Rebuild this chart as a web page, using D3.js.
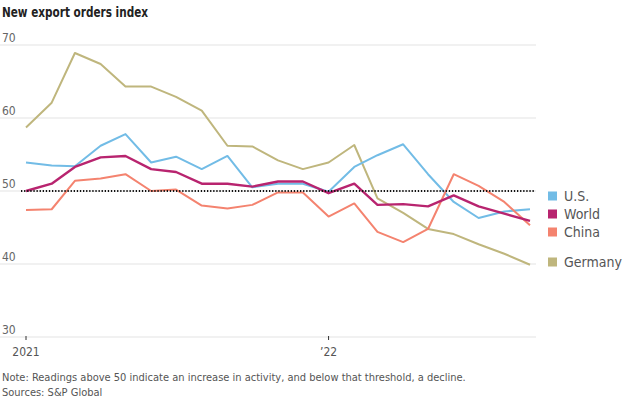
<!DOCTYPE html>
<html>
<head>
<meta charset="utf-8">
<script src="https://cdn.jsdelivr.net/npm/d3@7"></script>
<style>
  body { margin: 0; background: #fff; }
  svg { display: block; font-family: "Liberation Sans Narrow", "DejaVu Sans Condensed", "Roboto", sans-serif; }
</style>
</head>
<body>
<svg id="chart" width="624" height="405"></svg>
<script>
// monthly readings, Jan 2021 - Sep 2022
const months = d3.range(21).map(i => new Date(2021, i, 1));
const usValues      = [53.9, 53.5, 53.4, 56.2, 57.8, 53.9, 54.7, 53.0, 54.8, 50.5, 51.0, 51.0, 49.9, 53.3, 54.9, 56.4, 52.3, 48.5, 46.3, 47.2, 47.5];
const worldValues   = [50.0, 51.0, 53.3, 54.6, 54.8, 53.0, 52.6, 51.0, 51.0, 50.6, 51.3, 51.3, 49.7, 51.0, 48.1, 48.2, 47.9, 49.4, 47.9, 46.9, 45.9];
const chinaValues   = [47.4, 47.5, 51.4, 51.7, 52.3, 50.0, 50.2, 48.0, 47.6, 48.1, 49.8, 49.8, 46.5, 48.3, 44.4, 43.0, 44.8, 52.3, 50.7, 48.5, 45.3];
const germanyValues = [58.7, 62.1, 68.9, 67.4, 64.3, 64.3, 62.9, 61.0, 56.2, 56.1, 54.2, 53.0, 53.9, 56.3, 49.0, 47.0, 44.8, 44.1, 42.7, 41.4, 39.9];
const yTicks = [30, 40, 50, 60, 70];
const xTicks = [new Date(2021, 0, 1), new Date(2022, 0, 1)];
const xTickLabels = ['2021', '\u201922'];

const series = [
    { name: 'Germany', values: germanyValues, color: '#bfb67d', legendY: 262 },
    { name: 'U.S.', values: usValues, color: '#72bce6', legendY: 196 },
    { name: 'China', values: chinaValues, color: '#f4836f', legendY: 232 },
    { name: 'World', values: worldValues, color: '#b8246f', legendY: 214 }
];

const svg = d3.select('#chart');

const x = d3.scaleTime()
    .domain([months[0], months[months.length - 1]])
    .range([26, 530]);
const y = d3.scaleLinear().domain([30, 70]).range([337, 45]);

// title
svg.append('text')
    .attr('x', 2).attr('y', 17)
    .attr('font-size', 14).attr('font-weight', 'bold')
    .attr('fill', '#222')
    .attr('textLength', 146).attr('lengthAdjust', 'spacingAndGlyphs')
    .text('New export orders index');

// gridlines + y labels
svg.selectAll('.grid').data(yTicks).enter().append('line')
    .attr('x1', 0).attr('x2', 536)
    .attr('y1', d => y(d)).attr('y2', d => y(d))
    .attr('stroke', '#ececec').attr('stroke-width', 1.5);

svg.selectAll('.ylab').data(yTicks).enter().append('text')
    .attr('x', 2).attr('y', d => y(d) - 3)
    .attr('font-size', 12).attr('fill', '#666')
    .text(d => d);

// x ticks
svg.selectAll('.xtick').data(xTicks).enter().append('line')
    .attr('x1', d => x(d)).attr('x2', d => x(d))
    .attr('y1', 336).attr('y2', 340)
    .attr('stroke', '#333').attr('stroke-width', 1);

svg.selectAll('.xlab').data(xTicks).enter().append('text')
    .attr('x', d => x(d)).attr('y', 356)
    .attr('text-anchor', 'middle')
    .attr('font-size', 12).attr('fill', '#555')
    .text((d, i) => xTickLabels[i]);

// lines
const line = d3.line()
    .x((d, i) => x(months[i]))
    .y(d => y(d));

svg.selectAll('.series').data(series).enter().append('path')
    .attr('d', d => line(d.values))
    .attr('fill', 'none')
    .attr('stroke', d => d.color)
    .attr('stroke-width', d => d.name === 'World' ? 2.4 : 2)
    .attr('stroke-linejoin', 'round');

// 50 threshold
svg.append('line')
    .attr('x1', 21).attr('x2', 534)
    .attr('y1', y(50)).attr('y2', y(50))
    .attr('stroke', '#111').attr('stroke-width', 2)
    .attr('stroke-dasharray', '1.3,1.8');

// legend
const legend = svg.selectAll('.legend').data(series).enter().append('g')
    .attr('transform', d => `translate(548,${d.legendY})`);
legend.append('rect')
    .attr('x', 0).attr('y', -4.5)
    .attr('width', 9).attr('height', 9)
    .attr('fill', d => d.color);
legend.append('text')
    .attr('x', 16).attr('y', 5)
    .attr('font-size', 14).attr('fill', '#555')
    .text(d => d.name);

// footnotes
svg.append('text')
    .attr('x', 2).attr('y', 381)
    .attr('font-size', 11).attr('fill', '#555')
    .text('Note: Readings above 50 indicate an increase in activity, and below that threshold, a decline.');
svg.append('text')
    .attr('x', 2).attr('y', 396)
    .attr('font-size', 11).attr('fill', '#555')
    .text('Sources: S&P Global');
</script>
</body>
</html>
